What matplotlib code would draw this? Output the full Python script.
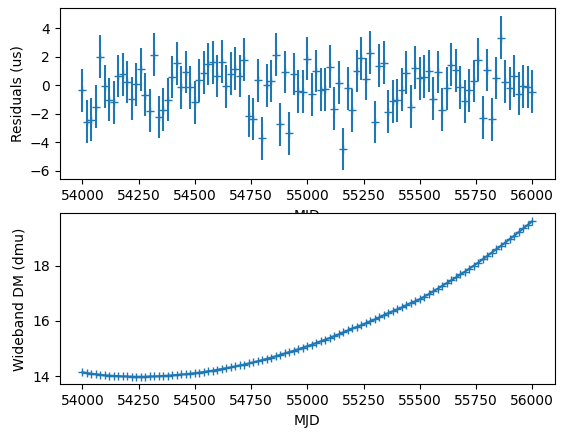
import numpy as np
import matplotlib
matplotlib.use("Agg")
import matplotlib.pyplot as plt

# 101 TOAs, 20 days apart
mjd = np.arange(54000, 56001, 20)

resid = [-0.35, -2.57, -2.43, -1.52, 2.0, -0.09, -1.02, -1.21, 0.65, 0.76,
         0.22, -0.95, 0.07, 1.12, -0.66, -1.78, 2.15, -2.24, -1.71, -1.02,
         0.57, 1.53, -0.14, 0.93, -0.14, -1.21, 0.34, 0.88, 1.48, 1.6,
         0.65, 1.65, -0.09, 0.81, 1.15, 0.65, 1.79, -2.16, -2.38, 0.34,
         -3.74, 0.0, 0.29, 2.15, -2.74, 0.93, -3.38, 0.79, -0.43, -0.47,
         1.86, -0.64, 1.0, -0.31, -0.28, 1.29, -1.66, 0.17, -4.47, -0.21,
         -1.76, 1.0, 1.88, 0.43, 2.29, -2.59, 1.36, 1.57, -1.85, -1.12,
         -1.07, -0.31, 0.88, -1.52, 1.22, 0.48, 0.6, 1.0, -0.95, 0.93,
         -1.71, -0.21, 1.43, 1.05, -0.14, -1.12, -0.35, 0.29, 1.79, -2.28,
         1.07, -2.4, 0.5, 3.34, 0.24, -0.21, 0.65, -0.59, -0.09, -0.12,
         -0.47]
resid_err = [1.5] * len(resid)

dm = [14.15, 14.12, 14.10, 14.08, 14.06, 14.04, 14.03, 14.02, 14.01, 14.00,
      14.00, 13.99, 13.99, 13.99, 13.99, 14.00, 14.00, 14.01, 14.02, 14.03,
      14.04, 14.05, 14.07, 14.08, 14.10, 14.12, 14.14, 14.16, 14.19, 14.21,
      14.24, 14.27, 14.30, 14.33, 14.36, 14.40, 14.43, 14.47, 14.51, 14.55,
      14.59, 14.64, 14.68, 14.73, 14.78, 14.83, 14.88, 14.93, 14.98, 15.04,
      15.09, 15.15, 15.21, 15.27, 15.33, 15.39, 15.46, 15.52, 15.59, 15.66,
      15.73, 15.79, 15.85, 15.92, 15.99, 16.06, 16.13, 16.21, 16.29, 16.35,
      16.42, 16.49, 16.57, 16.65, 16.71, 16.79, 16.88, 16.97, 17.07, 17.17,
      17.27, 17.37, 17.47, 17.57, 17.68, 17.78, 17.89, 18.00, 18.11, 18.23,
      18.35, 18.47, 18.59, 18.71, 18.83, 18.96, 19.08, 19.21, 19.34, 19.47,
      19.60]

fig, (ax1, ax2) = plt.subplots(2, 1, figsize=(5.65, 4.32), dpi=100)
fig.subplots_adjust(left=0.106, right=0.982, top=0.981, bottom=0.11, hspace=0.2)

ax1.errorbar(mjd, resid, yerr=resid_err, fmt="+")
ax1.set_xlabel("MJD")
ax1.set_ylabel("Residuals (us)")
ax1.set_ylim(-6.6, 5.4)

ax2.plot(mjd, dm, marker="+")
ax2.set_xlabel("MJD")
ax2.set_ylabel("Wideband DM (dmu)")

fig.savefig("out.png")
